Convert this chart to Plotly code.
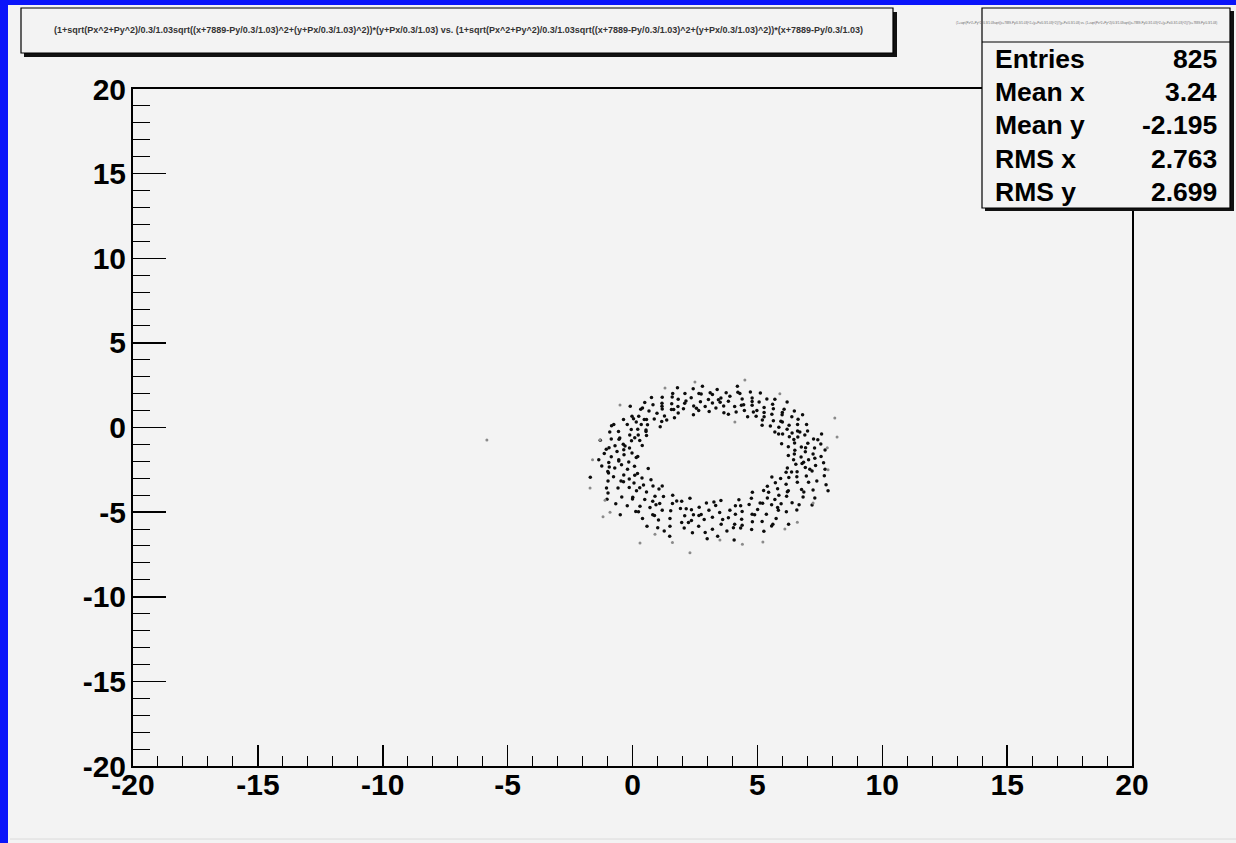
import plotly.graph_objects as go

W, H = 1236, 843

# ---------------- data ----------------
ring_x = [
    7.05, 6.45, 7.55, 6.75, 7.23, 6.24, 6.92, 7.71, 6.50, 7.29,
    6.76, 7.54, 6.24, 7.02, 6.49, 7.25, 5.97, 7.57, 6.62, 6.90,
    6.28, 7.01, 6.39, 6.61, 6.01, 6.97, 6.19, 6.61, 5.70, 6.27,
    6.81, 5.86, 6.38, 6.00, 6.48, 5.52, 5.99, 5.64, 6.07, 5.19,
    6.19, 5.58, 5.64, 5.27, 5.61, 5.27, 5.27, 4.95, 5.38, 4.98,
    5.07, 4.61, 4.79, 5.12, 4.48, 4.79, 4.45, 4.72, 4.15, 4.39,
    4.09, 4.30, 3.84, 4.20, 3.84, 3.90, 3.65, 3.75, 3.51, 3.54,
    3.34, 3.39, 3.20, 3.20, 3.07, 3.04, 2.80, 2.91, 2.66, 2.72,
    2.43, 2.65, 2.35, 2.45, 2.10, 2.44, 1.80, 2.09, 1.83, 2.04,
    1.59, 1.82, 1.57, 1.83, 1.19, 1.56, 1.18, 1.68, 1.19, 0.76,
    1.28, 0.82, 0.98, 0.49, 1.17, 0.66, 0.87, 0.33, 1.11, -0.09,
    0.47, 0.25, 0.60, -0.02, 0.35, 0.15, 0.54, -0.36, 0.21, -0.21,
    0.56, -0.05, -0.84, 0.23, -0.56, -0.11, -0.91, 0.29, -0.51, -0.04,
    -0.85, 0.39, -1.29, -0.37, -0.70, -0.12, -0.94, -0.35, -0.62, -0.02,
    -1.13, -0.34, -0.85, 0.15, -0.55, -1.35, -0.15, -0.95, -0.44, -1.23,
    0.08, -0.71, -0.20, -0.99, 0.63, -1.69, -0.35, -0.76, 0.09, -0.98,
    -0.13, -0.46, 0.38, -1.04, 0.06, -0.58, 0.74, -0.13, -1.02, 0.44,
    -0.43, 0.16, -0.67, 0.82, 0.00, 0.56, -0.21, 1.19, -0.49, 0.49,
    0.30, 0.90, 0.24, 0.81, 0.70, 1.24, 0.40, 1.09, 0.81, 1.61,
    1.19, 0.58, 1.60, 1.04, 1.53, 1.01, 1.97, 1.50, 1.92, 1.50,
    2.30, 1.49, 2.09, 1.97, 2.36, 2.07, 2.44, 2.36, 2.67, 2.40,
    2.75, 2.65, 2.96, 2.87, 2.99, 3.06, 3.20, 3.20, 3.41, 3.33,
    3.55, 3.49, 3.78, 3.54, 4.07, 3.84, 4.09, 3.90, 4.33, 4.12,
    4.37, 4.12, 4.77, 4.39, 4.80, 4.26, 4.79, 5.26, 4.67, 5.19,
    5.01, 5.57, 4.76, 5.36, 5.11, 5.75, 4.80, 6.25, 5.57, 5.84,
    5.40, 6.16, 5.70, 5.95, 5.45, 6.58, 5.86, 6.39, 5.40, 6.17,
    7.19, 5.81, 6.83, 6.24, 7.30, 5.72, 6.77, 6.15, 7.23, 5.58,
    7.83, 6.60, 7.05, 6.26, 7.38, 6.58, 6.96, 6.15, 7.68, 6.59,
    7.19, 6.20, 6.92, 7.71, 6.54, 7.33, 6.85, 7.65,
    7.30, 6.48, 6.93, 7.42, 6.46, 6.70, 5.85, 6.63, 5.94, 6.00,
    5.20, 5.70, 4.84, 4.79, 4.36, 4.22, 3.66, 3.44, 3.11, 2.75,
    2.56, 2.14, 1.61, 1.65, 1.18, 1.37, 0.40, 0.56, 0.04, 0.54,
    -0.75, 0.09, -0.54, -0.30, -1.05, 0.21, -0.55, -0.93, -0.96, 0.20,
    -0.36, -0.98, 0.29, 0.01, 1.06, 0.13, 0.94, 0.88, 1.77, 1.27,
    2.15, 2.24, 2.66, 2.91, 3.26, 3.61, 4.04, 4.39, 4.33, 4.89,
    5.62, 5.21, 5.81, 5.25, 6.67, 6.20, 6.86, 5.93, 7.75, 6.37,
    7.10, 6.79,
]
ring_y = [
    -1.90, -1.90, -1.72, -1.75, -1.57, -1.65, -1.43, -1.33, -1.35, -1.21,
    -1.15, -0.98, -1.14, -0.93, -0.92, -0.68, -0.96, -0.38, -0.56, -0.44,
    -0.55, -0.21, -0.33, -0.21, -0.38, 0.18, -0.10, 0.17, -0.26, 0.14,
    0.75, 0.02, 0.64, 0.32, 0.97, 0.09, 0.75, 0.40, 1.08, 0.13,
    1.51, 0.78, 1.11, 0.64, 1.38, 0.88, 1.18, 0.67, 1.69, 1.00,
    1.51, 0.63, 1.32, 2.04, 1.01, 1.75, 1.34, 2.10, 0.91, 1.68,
    1.24, 2.01, 0.78, 2.44, 1.55, 1.84, 1.27, 2.06, 1.49, 1.74,
    1.15, 2.25, 1.45, 1.95, 0.95, 1.65, 2.43, 1.24, 2.01, 1.52,
    2.29, 1.01, 1.76, 1.27, 2.01, 0.76, 2.35, 1.44, 1.67, 1.11,
    1.80, 1.24, 1.41, 0.86, 1.78, 1.07, 1.43, 0.57, 1.09, 1.77,
    0.68, 1.34, 0.84, 1.47, 0.36, 0.97, 0.50, 1.08, 0.04, 1.25,
    0.47, 0.67, 0.16, 0.67, 0.17, 0.32, -0.15, 0.48, -0.10, 0.17,
    -0.47, -0.12, 0.11, -0.44, -0.23, -0.44, -0.27, -0.77, -0.62, -0.79,
    -0.68, -1.07, -0.75, -0.99, -1.08, -1.21, -1.20, -1.31, -1.42, -1.50,
    -1.54, -1.61, -1.73, -1.77, -1.90, -1.90, -2.04, -2.07, -2.20, -2.27,
    -2.29, -2.39, -2.47, -2.60, -2.42, -2.94, -2.80, -2.91, -2.82, -3.16,
    -3.04, -3.16, -2.99, -3.58, -3.28, -3.58, -3.09, -3.54, -4.24, -3.40,
    -4.11, -3.73, -4.50, -3.46, -4.23, -3.81, -4.63, -3.46, -5.15, -4.25,
    -4.66, -4.06, -4.98, -4.36, -4.73, -4.08, -5.38, -4.49, -5.15, -4.00,
    -4.89, -5.84, -4.49, -5.46, -4.92, -5.92, -4.36, -5.37, -4.79, -5.83,
    -4.18, -6.42, -5.22, -5.62, -4.86, -5.94, -5.16, -5.50, -4.71, -6.22,
    -5.14, -5.83, -4.46, -5.44, -6.57, -4.89, -6.01, -5.31, -6.43, -4.61,
    -5.71, -5.02, -6.11, -4.31, -6.64, -5.33, -5.71, -4.89, -5.94, -5.13,
    -5.42, -4.62, -6.03, -4.97, -5.57, -4.27, -5.12, -6.13, -4.55, -5.55,
    -4.85, -5.82, -4.18, -5.13, -4.46, -5.38, -3.83, -5.71, -4.57, -4.89,
    -4.16, -4.98, -4.26, -4.51, -3.83, -4.87, -4.00, -4.45, -3.47, -4.06,
    -4.58, -3.62, -4.11, -3.73, -4.17, -3.26, -3.67, -3.35, -3.70, -2.93,
    -3.74, -3.23, -3.23, -2.95, -3.16, -2.91, -2.86, -2.64, -2.85, -2.61,
    -2.57, -2.40, -2.37, -2.47, -2.17, -2.24, -2.05, -2.09,
    -1.81, -1.56, -1.20, -0.72, -0.71, -0.26, -0.39, 0.49, 0.37, 0.88,
    0.44, 1.67, 0.91, 1.53, 1.32, 2.08, 0.87, 1.64, 2.05, 1.98,
    1.14, 1.56, 2.01, 1.06, 1.26, 0.44, 1.15, 0.48, 0.51, -0.23,
    0.17, -0.61, -0.70, -1.09, -1.28, -1.72, -1.98, -2.33, -2.69, -2.72,
    -3.21, -3.87, -3.56, -4.12, -3.64, -4.97, -4.56, -5.20, -4.34, -6.11,
    -4.80, -5.62, -5.20, -6.21, -4.40, -5.43, -5.93, -5.78, -4.62, -5.15,
    -5.71, -4.48, -4.73, -3.72, -4.56, -3.80, -3.81, -3.02, -3.38, -2.63,
    -2.47, -2.12,
]
sparse_x = [-5.83, -1.70, 0.30, 2.30, 3.50, 5.22, -1.18, -1.10, 8.19, 8.10,
            7.83, 2.50, 4.50, 1.30, -1.30, -0.50, 4.10, 1.60, 4.40, 6.60,
            7.80, -1.60, 0.90, 5.90, 6.10, -0.90, 7.23]
sparse_y = [-0.74, -3.57, -6.82, -7.40, -6.65, -6.76, -5.28, -4.30, -0.56, 0.56,
            -2.50, 2.69, 2.80, 2.33, -0.74, 1.33, 0.32, -6.80, -6.90, -5.60,
            -1.20, -1.90, -6.30, 2.00, -6.00, -5.00, -4.46]

tick_vals = [-20, -15, -10, -5, 0, 5, 10, 15, 20]
tick_text = ["-20", "-15", "-10", "-5", "0", "5", "10", "15", "20"]

title_text = ("(1+sqrt(Px^2+Py^2)/0.3/1.03sqrt((x+7889-Py/0.3/1.03)^2+(y+Px/0.3/1.03)^2))*(y+Px/0.3/1.03)"
              " vs. (1+sqrt(Px^2+Py^2)/0.3/1.03sqrt((x+7889-Py/0.3/1.03)^2+(y+Px/0.3/1.03)^2))*(x+7889-Py/0.3/1.03)")
stat_names = ["Entries", "Mean x", "Mean y", "RMS x", "RMS y"]
stat_values = ["825", "3.24", "-2.195", "2.763", "2.699"]

# ---------------- figure ----------------
def px(x):
    return x / W

def py(y):
    return 1 - y / H

BG = "#f3f3f3"
fig = go.Figure()
fig.add_trace(go.Scatter(x=ring_x, y=ring_y, mode="markers",
                         marker=dict(size=3.5, color="#0c0c0c", line=dict(width=0)),
                         hoverinfo="skip", showlegend=False))
fig.add_trace(go.Scatter(x=sparse_x, y=sparse_y, mode="markers",
                         marker=dict(size=3, color="#8a8a8a", line=dict(width=0)),
                         hoverinfo="skip", showlegend=False))

tickfont = dict(family="Liberation Sans, Arial, sans-serif", size=30, color="black", weight="bold")
common = dict(range=[-20, 20], showgrid=False, zeroline=False, showline=True, mirror=True,
              linecolor="black", linewidth=2, ticks="inside", tickcolor="black", automargin=False,
              tickvals=tick_vals, ticktext=tick_text, tickfont=tickfont, fixedrange=True)

fig.update_xaxes(domain=[px(133), px(1132)], ticklen=21, tickwidth=1.5, ticklabelstandoff=-9,
                 minor=dict(dtick=1, tick0=0, ticks="inside", ticklen=10, tickcolor="black", tickwidth=1),
                 **common)
fig.update_yaxes(domain=[py(766), py(89)], ticklen=33, tickwidth=1.5, ticklabelstandoff=-1,
                 minor=dict(dtick=1, tick0=0, ticks="inside", ticklen=17, tickcolor="black", tickwidth=1),
                 **common)

shapes = []
# blue frame bands
shapes.append(dict(type="rect", xref="paper", yref="paper", x0=0, x1=px(8), y0=0, y1=1,
                   fillcolor="#0a14fa", line=dict(width=0), layer="above"))
shapes.append(dict(type="rect", xref="paper", yref="paper", x0=0, x1=1, y0=py(5), y1=1,
                   fillcolor="#0a14fa", line=dict(width=0), layer="above"))
# faint bottom line
shapes.append(dict(type="line", xref="paper", yref="paper", x0=px(10), x1=1, y0=py(839), y1=py(839),
                   line=dict(color="#dadada", width=1), layer="above"))
# title box with shadow
shapes.append(dict(type="rect", xref="paper", yref="paper", x0=px(24), x1=px(897), y0=py(57), y1=py(12),
                   fillcolor="#111111", line=dict(width=0), layer="above"))
shapes.append(dict(type="rect", xref="paper", yref="paper", x0=px(21), x1=px(893), y0=py(53), y1=py(8),
                   fillcolor=BG, line=dict(color="black", width=1.2), layer="above"))
# stats box with shadow
shapes.append(dict(type="rect", xref="paper", yref="paper", x0=px(985), x1=px(1234), y0=py(211), y1=py(11),
                   fillcolor="#111111", line=dict(width=0), layer="above"))
shapes.append(dict(type="rect", xref="paper", yref="paper", x0=px(982), x1=px(1230), y0=py(208), y1=py(8),
                   fillcolor=BG, line=dict(color="black", width=1.2), layer="above"))
shapes.append(dict(type="line", xref="paper", yref="paper", x0=px(982), x1=px(1230), y0=py(42), y1=py(42),
                   line=dict(color="black", width=1.2), layer="above"))

annotations = []
annotations.append(dict(xref="paper", yref="paper", x=px(458), y=py(30), text=title_text,
                        showarrow=False, xanchor="center", yanchor="middle",
                        font=dict(family="Liberation Sans, Arial, sans-serif", size=9,
                                  color="#333333", weight="bold")))
annotations.append(dict(xref="paper", yref="paper", x=px(1086), y=py(23), text=title_text,
                        showarrow=False, xanchor="center", yanchor="middle",
                        font=dict(family="Liberation Sans, Arial, sans-serif", size=3,
                                  color="#666666")))
row_y = [59, 92, 125, 159, 192]
for name, val, ry in zip(stat_names, stat_values, row_y):
    annotations.append(dict(xref="paper", yref="paper", x=px(993), y=py(ry), text=name,
                            showarrow=False, xanchor="left", yanchor="middle",
                            font=dict(family="Liberation Sans, Arial, sans-serif", size=26.5,
                                      color="black", weight="bold")))
    annotations.append(dict(xref="paper", yref="paper", x=px(1219), y=py(ry), text=val,
                            showarrow=False, xanchor="right", yanchor="middle",
                            font=dict(family="Liberation Sans, Arial, sans-serif", size=26.5,
                                      color="black", weight="bold")))

fig.update_layout(width=W, height=H, margin=dict(l=0, r=0, t=0, b=0, pad=0, autoexpand=False),
                  paper_bgcolor=BG, plot_bgcolor=BG, shapes=shapes, annotations=annotations,
                  showlegend=False)

post = ("document.documentElement.style.margin='0';document.documentElement.style.padding='0';"
        "document.body.style.margin='0';document.body.style.padding='0';"
        "document.body.style.overflow='hidden';document.body.style.background='#f3f3f3';")
fig.write_html("out.html", config={"displayModeBar": False, "staticPlot": True}, post_script=post)
